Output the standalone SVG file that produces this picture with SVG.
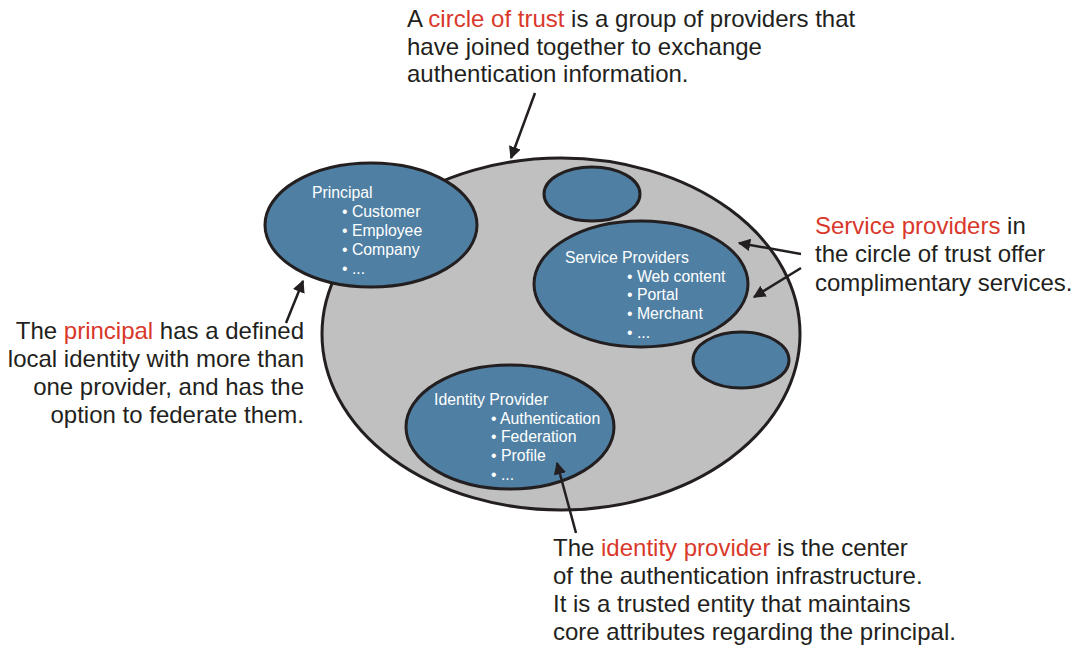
<svg xmlns="http://www.w3.org/2000/svg" width="1088" height="646" viewBox="0 0 1088 646">
<defs>
<marker id="ah" viewBox="0 0 10 10" refX="9" refY="5" markerWidth="5" markerHeight="5" orient="auto" markerUnits="strokeWidth">
<path d="M0,0 L10,5 L0,10 z" fill="#231f20"/>
</marker>
<style>
.cot{fill:#c0c0c0;stroke:#231f20;stroke-width:3}
.node{fill:#4f7fa3;stroke:#231f20;stroke-width:3}
.nt{font-family:"Liberation Sans",Arial,sans-serif;font-size:15.8px;fill:#ffffff}
.ann{font-family:"Liberation Sans",Arial,sans-serif;font-size:24px;fill:#231f20}
.red{fill:#d9382b}
.conn{stroke:#231f20;stroke-width:2.5;fill:none;marker-end:url(#ah)}
</style>
</defs>
<rect width="1088" height="646" fill="#ffffff"/>
<g id="circle-of-trust">
<ellipse class="cot" cx="561" cy="334" rx="239" ry="176"/>
</g>
<g id="principal">
<ellipse class="node" cx="371" cy="225" rx="106" ry="62"/>
<text class="nt" x="312" y="198">Principal</text>
<text class="nt" x="342" y="217">• Customer</text>
<text class="nt" x="342" y="236">• Employee</text>
<text class="nt" x="342" y="255">• Company</text>
<text class="nt" x="342" y="274">• ...</text>
</g>
<g id="provider-top">
<ellipse class="node" cx="592" cy="194" rx="48" ry="27"/>
</g>
<g id="service-providers">
<ellipse class="node" cx="641" cy="284" rx="107" ry="63"/>
<text class="nt" x="565" y="263">Service Providers</text>
<text class="nt" x="627" y="282">• Web content</text>
<text class="nt" x="627" y="300">• Portal</text>
<text class="nt" x="627" y="319">• Merchant</text>
<text class="nt" x="627" y="338">• ...</text>
</g>
<g id="provider-right">
<ellipse class="node" cx="741" cy="360" rx="48" ry="28"/>
</g>
<g id="identity-provider">
<ellipse class="node" cx="510" cy="427" rx="104" ry="62"/>
<text class="nt" x="434" y="405">Identity Provider</text>
<text class="nt" x="491" y="424">• Authentication</text>
<text class="nt" x="491" y="442">• Federation</text>
<text class="nt" x="491" y="461">• Profile</text>
<text class="nt" x="491" y="480">• ...</text>
</g>
<g id="note-circle-of-trust">
<text class="ann" x="407" y="27">A <tspan class="red">circle of trust</tspan> is a group of providers that</text>
<text class="ann" x="407" y="55">have joined together to exchange</text>
<text class="ann" x="407" y="82">authentication information.</text>
</g>
<g id="note-service-providers">
<text class="ann" x="815" y="234"><tspan class="red">Service providers</tspan> in</text>
<text class="ann" x="815" y="262">the circle of trust offer</text>
<text class="ann" x="815" y="291">complimentary services.</text>
</g>
<g id="note-principal">
<text class="ann" x="304" y="339" text-anchor="end">The <tspan class="red">principal</tspan> has a defined</text>
<text class="ann" x="304" y="367" text-anchor="end">local identity with more than</text>
<text class="ann" x="304" y="395" text-anchor="end">one provider, and has the</text>
<text class="ann" x="304" y="423" text-anchor="end">option to federate them.</text>
</g>
<g id="note-identity-provider">
<text class="ann" x="553" y="556">The <tspan class="red">identity provider</tspan> is the center</text>
<text class="ann" x="553" y="584">of the authentication infrastructure.</text>
<text class="ann" x="553" y="612">It is a trusted entity that maintains</text>
<text class="ann" x="553" y="640">core attributes regarding the principal.</text>
</g>
<g id="connectors">
<line class="conn" x1="535" y1="93" x2="511" y2="158"/>
<line class="conn" x1="286" y1="323" x2="303" y2="281"/>
<line class="conn" x1="801" y1="254" x2="739" y2="243"/>
<line class="conn" x1="801" y1="268" x2="754" y2="297"/>
<line class="conn" x1="576" y1="533" x2="557" y2="463"/>
</g>
</svg>
